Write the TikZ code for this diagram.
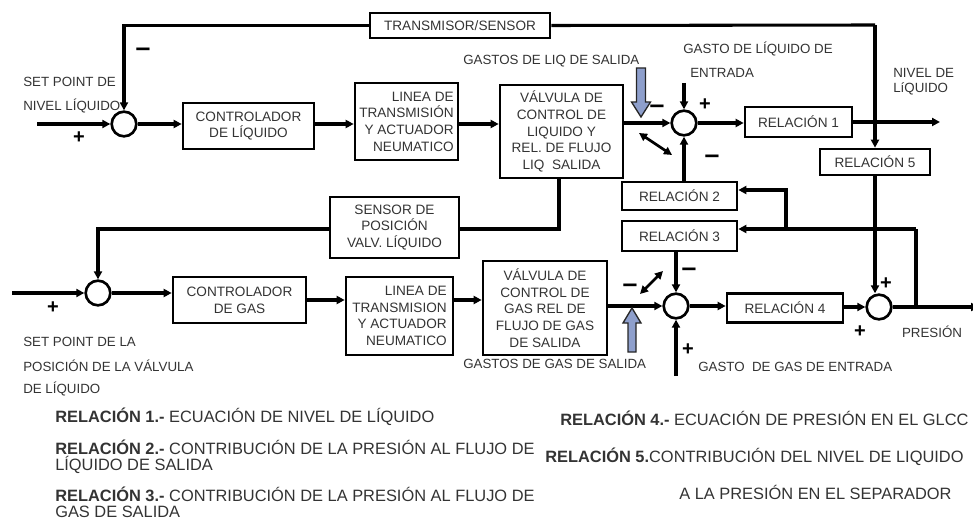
\documentclass[tikz,border=0pt]{standalone}
\usepackage{fontspec}
\setmainfont{Liberation Sans}
\usetikzlibrary{arrows.meta,calc}
\definecolor{txt}{HTML}{333333}
\definecolor{blu}{HTML}{8E9FCC}
\begin{document}
\begin{tikzpicture}[x=0.75pt,y=-0.75pt,
  box/.style={draw,line width=2pt,inner sep=1pt,align=center,font=\fontsize{10.2}{12.5}\selectfont,text=txt},
  sumc/.style={draw,circle,line width=2pt,minimum size=18.5pt,inner sep=0},
  conn/.style={line width=2.3pt,-{Triangle[length=6pt,width=6pt]}},
  ln/.style={line width=2.3pt},
  dbl/.style={line width=2pt,{Triangle[length=6pt,width=6pt]}-{Triangle[length=6pt,width=6pt]}},
  lbl/.style={font=\fontsize{10}{12}\selectfont,text=txt,inner sep=0},
  sgn/.style={font=\fontsize{15}{15}\selectfont\bfseries,inner sep=0},
  msgn/.style={font=\fontsize{20}{20}\selectfont\bfseries,inner sep=0},
  leg/.style={font=\fontsize{12.3}{14}\selectfont,text=txt,inner sep=0,anchor=west},
  barrow/.style={fill=blu,draw=black!85,line width=1pt,line join=miter}]
\useasboundingbox (0,0) rectangle (973,527);

% ---------- boxes ----------
\node[box,minimum width=135pt,minimum height=18.75pt] (tr) at (460,25.5) {TRANSMISOR/SENSOR};
\node[box,minimum width=98.25pt,minimum height=34.5pt] (c1) at (248.5,126) {CONTROLADOR\\DE LÍQUIDO};
\node[box,minimum width=77.25pt,minimum height=57.75pt,align=right] (l1) at (406.5,121.5) {LINEA DE\\TRANSMISIÓN\\Y ACTUADOR\\NEUMATICO};
\node[box,minimum width=92.25pt,minimum height=69.75pt] (v1) at (561.5,131.5) {VÁLVULA DE\\CONTROL DE\\LIQUIDO Y\\REL. DE FLUJO\\LIQ\ \ SALIDA};
\node[box,minimum width=80.25pt,minimum height=22.5pt] (r1) at (798.5,122) {RELACIÓN 1};
\node[box,minimum width=82.5pt,minimum height=19.5pt] (r5) at (875,162) {RELACIÓN 5};
\node[box,minimum width=86.25pt,minimum height=21pt] (r2) at (679.5,196) {RELACIÓN 2};
\node[box,minimum width=86.25pt,minimum height=22.5pt] (r3) at (679.5,236) {RELACIÓN 3};
\node[box,minimum width=96.75pt,minimum height=45.75pt] (sp) at (394.5,227.5) {SENSOR DE\\POSICIÓN\\VALV. LÍQUIDO};
\node[box,minimum width=99.75pt,minimum height=34.5pt] (c2) at (239.5,300) {CONTROLADOR\\DE GAS};
\node[box,minimum width=80.25pt,minimum height=58.5pt,align=right] (l2) at (399.5,316) {LINEA DE\\TRANSMISION\\Y ACTUADOR\\NEUMATICO};
\node[box,minimum width=93pt,minimum height=70.5pt] (v2) at (545,308) {VÁLVULA DE\\CONTROL DE\\GAS REL DE\\FLUJO DE GAS\\DE SALIDA};
\node[box,minimum width=87pt,minimum height=21.75pt] (r4) at (785,308) {RELACIÓN 4};

% ---------- summing junctions ----------
\node[sumc] (s1) at (124,124) {};
\node[sumc] (s2) at (684,123) {};
\node[sumc] (s3) at (676,306) {};
\node[sumc] (s4) at (879,307) {};
\node[sumc] (s5) at (98,293) {};

% ---------- free ends ----------
\coordinate (in1) at (37,124);
\coordinate (in5) at (12,293);
\coordinate (tp) at (875,25);
\coordinate (lin) at (684,83);
\coordinate (gin) at (676,376);
\coordinate (nivel) at (940,122);
\coordinate (pout) at (979,307);
\coordinate (jp) at (916,307);
\coordinate (j3) at (916,229);
\coordinate (j2) at (786,229);
\coordinate (j2t) at (786,190);
\coordinate (vs) at (559,229);
\coordinate (d1a) at (639,133);
\coordinate (d1b) at (672,155);
\coordinate (d2a) at (640,294);
\coordinate (d2b) at (663,271);

% ---------- liquid loop ----------
\draw[conn] (in1) -- (s1.west);
\draw[conn] (s1.east) -- (c1.west |- s1.east);
\draw[conn] (c1.east |- s1.east) -- (l1.west |- s1.east);
\draw[conn] (l1.east |- s1.east) -- (v1.west |- s1.east);
\draw[conn] (v1.east |- s2.west) -- (s2.west);
\draw[conn] (lin) -- (s2.north);
\draw[conn] (s2.east) -- (r1.west |- s2.east);
\draw[conn] (r1.east) -- (nivel);
\draw[conn] (tp) -- (r5.north);
\draw[ln] (tp) -- (tr.east);
\draw[conn] (tr.west) -- (s1 |- tr.west) -- (s1.north);
\draw[conn] (s2 |- r2.north) -- (s2.south);
\draw[dbl] (d1a) -- (d1b);

% ---------- gas loop ----------
\draw[conn] (in5) -- (s5.west);
\draw[ln] (v1.south -| vs) -- (vs) -- (sp.east |- vs);
\draw[conn] (sp.west |- vs) -- (s5 |- vs) -- (s5.north);
\draw[conn] (s5.east) -- (c2.west |- s5.east);
\draw[conn] (c2.east) -- (l2.west |- c2.east);
\draw[conn] (l2.east |- c2.east) -- (v2.west |- c2.east);
\draw[conn] (v2.east |- s3.west) -- (s3.west);
\draw[conn] (s3 |- r3.south) -- (s3.north);
\draw[conn] (gin) -- (s3.south);
\draw[conn] (s3.east) -- (r4.west |- s3.east);
\draw[conn] (r4.east |- s4.west) -- (s4.west);
\draw[conn] (r5.south) -- (r5.south |- s4.north);
\draw[conn] (s4.east) -- (pout);
\draw[ln] (jp) -- (j3);
\draw[conn] (j3) -- (r3.east |- j3);
\draw[conn] (j2) -- (j2t) -- (r2.east |- j2t);
\draw[dbl] (d2a) -- (d2b);

% ---------- block arrows ----------
\draw[barrow] (636.5,68) -- (645.5,68) -- (645.5,102) -- (650.5,102) -- (641,117) -- (631.5,102) -- (636.5,102) -- cycle;
\draw[barrow] (628,352) -- (636,352) -- (636,323) -- (641,323) -- (632,308) -- (623,323) -- (628,323) -- cycle;

% ---------- labels ----------
\node[lbl,anchor=west] (tsp1) at (23,82) {SET POINT DE};
\node[lbl,anchor=west] (tsp2) at (23,106) {NIVEL LÍQUIDO};
\node[sgn] (p1) at (79,138) {+};
\node[msgn] (m1) at (143,52) {–};
\node[lbl,anchor=west] (tgls) at (463,61) {GASTOS DE LIQ DE SALIDA};
\node[msgn] (m2) at (657,109) {–};
\node[sgn] (p2) at (705,105) {+};
\node[msgn] (m3) at (712,159) {–};
\node[lbl,anchor=west] (tgle1) at (683,49) {GASTO DE LÍQUIDO DE};
\node[lbl,anchor=west] (tgle2) at (690,73) {ENTRADA};
\node[lbl,anchor=west] (tnl1) at (893,73) {NIVEL DE};
\node[lbl,anchor=west] (tnl2) at (893,89) {LíQUIDO};
\node[msgn] (m4) at (689,272) {–};
\node[msgn] (m5) at (630,288) {–};
\node[sgn] (p3) at (688,350) {+};
\node[lbl,anchor=west] (tgge) at (698,367) {GASTO\ \ DE GAS DE ENTRADA};
\node[lbl,anchor=west] (tggs) at (463,364) {GASTOS DE GAS DE SALIDA};
\node[sgn] (p4) at (886,284) {+};
\node[sgn] (p5) at (860,332) {+};
\node[lbl] (tpres) at (932,332) {PRESIÓN};
\node[sgn] (p6) at (53,308) {+};
\node[lbl,anchor=west] (tsg1) at (23,342) {SET POINT DE LA};
\node[lbl,anchor=west] (tsg2) at (23,366) {POSICIÓN DE LA VÁLVULA};
\node[lbl,anchor=west] (tsg3) at (23,389) {DE LÍQUIDO};

% ---------- legend ----------
\node[leg] (g1) at (55,417) {\textbf{RELACIÓN 1.-} ECUACIÓN DE NIVEL DE LÍQUIDO};
\node[leg] (g2) at (55,447) {\textbf{RELACIÓN 2.-} CONTRIBUCIÓN DE LA PRESIÓN AL FLUJO DE};
\node[leg] (g2b) at (55,465) {LÍQUIDO DE SALIDA};
\node[leg] (g3) at (55,494) {\textbf{RELACIÓN 3.-} CONTRIBUCIÓN DE LA PRESIÓN AL FLUJO DE};
\node[leg] (g3b) at (55,512) {GAS DE SALIDA};
\node[leg] (g4) at (560,418) {\textbf{RELACIÓN 4.-} ECUACIÓN DE PRESIÓN EN EL GLCC};
\node[leg] (g5) at (545,457) {\textbf{RELACIÓN 5.}CONTRIBUCIÓN DEL NIVEL DE LIQUIDO};
\node[leg] (g5b) at (679,492) {A LA PRESIÓN EN EL SEPARADOR};
\end{tikzpicture}
\end{document}
